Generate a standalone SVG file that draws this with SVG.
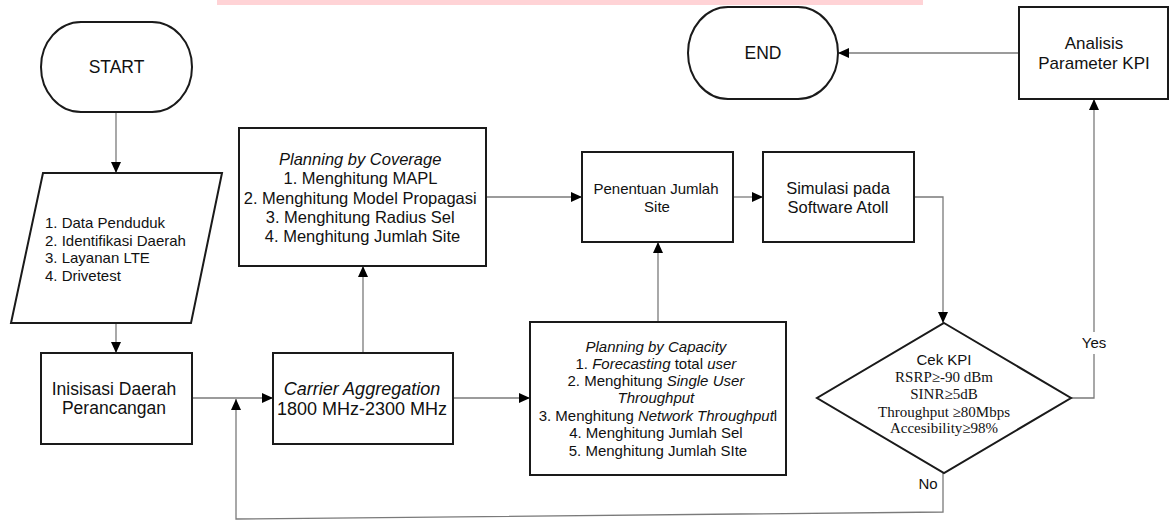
<svg xmlns="http://www.w3.org/2000/svg" width="1169" height="522" viewBox="0 0 1169 522">
<style>
.node{fill:#fff;stroke:#1a1a1a;stroke-width:2}
.conn{fill:none;stroke:#7a7a7a;stroke-width:1.3}
.t{font-family:"Liberation Sans",Arial,sans-serif;fill:#111;text-anchor:middle}
.tm{font-family:"Liberation Serif","Times New Roman",serif;fill:#111;text-anchor:middle;font-size:15px}
.i{font-style:italic}
</style>
<defs>
<marker id="arr" markerUnits="userSpaceOnUse" markerWidth="12" markerHeight="11" refX="11" refY="5" orient="auto">
<path d="M0,0 L11,5 L0,10 z" fill="#000"/>
</marker>
</defs>
<rect width="1169" height="522" fill="#fff"/>
<rect x="217" y="0" width="706" height="5" fill="#ffd3d6"/>

<g id="connectors">
<path class="conn" d="M116,112 V173" marker-end="url(#arr)"/>
<path class="conn" d="M116,323 V353" marker-end="url(#arr)"/>
<path class="conn" d="M177,398 H273" marker-end="url(#arr)"/>
<path class="conn" d="M363,353 V266" marker-end="url(#arr)"/>
<path class="conn" d="M453,398 H530" marker-end="url(#arr)"/>
<path class="conn" d="M486,197 H582" marker-end="url(#arr)"/>
<path class="conn" d="M658,322 V242" marker-end="url(#arr)"/>
<path class="conn" d="M733,197 H763" marker-end="url(#arr)"/>
<path class="conn" d="M914,197 H943 V323" marker-end="url(#arr)"/>
<path class="conn" d="M1071,398 H1094 V354"/>
<path class="conn" d="M1094,332 V99" marker-end="url(#arr)"/>
<path class="conn" d="M1019,53 H838" marker-end="url(#arr)"/>
<path class="conn" d="M943,473 V512 L236,519 V399" marker-end="url(#arr)"/>
<text class="t" x="1094" y="348" font-size="15">Yes</text>
<text class="t" x="928" y="489" font-size="15">No</text>
</g>

<g id="start">
<rect class="node" x="41" y="22" width="151" height="90" rx="40" ry="45"/>
<text class="t" x="116.5" y="73" font-size="17.5">START</text>
</g>

<g id="input-data">
<polygon class="node" points="43,173 222,173 191,323 11,323"/>
<text class="t" font-size="15" style="text-anchor:start">
<tspan x="45" y="228">1. Data Penduduk</tspan>
<tspan x="45" y="245.5">2. Identifikasi Daerah</tspan>
<tspan x="45" y="263">3. Layanan LTE</tspan>
<tspan x="45" y="280.5">4. Drivetest</tspan>
</text>
</g>

<g id="inisiasi">
<rect class="node" x="41" y="353" width="151" height="91"/>
<text class="t" font-size="17.5"><tspan x="114" y="395">Inisisasi Daerah</tspan><tspan x="114" y="414">Perancangan</tspan></text>
</g>

<g id="carrier-aggregation">
<rect class="node" x="273" y="353" width="180" height="91"/>
<text class="t" font-size="18"><tspan x="362" y="395" class="i">Carrier Aggregation</tspan><tspan x="362" y="415">1800 MHz-2300 MHz</tspan></text>
</g>

<g id="coverage">
<rect class="node" x="239" y="128" width="247" height="138"/>
<text class="t" font-size="16.5">
<tspan x="362.5" y="165" class="i">Planning by Coverage</tspan>
<tspan x="362.5" y="184">1. Menghitung MAPL</tspan>
<tspan x="362.5" y="204">2. Menghitung Model Propagasi</tspan>
<tspan x="362.5" y="223">3. Menghitung Radius Sel</tspan>
<tspan x="362.5" y="242">4. Menghitung Jumlah Site</tspan>
</text>
</g>

<g id="capacity">
<rect class="node" x="530" y="322" width="256" height="153"/>
<text class="t" font-size="15">
<tspan x="658" y="352" class="i">Planning by Capacity</tspan>
<tspan x="658" y="369">1. <tspan class="i">Forecasting</tspan> total <tspan class="i">user</tspan></tspan>
<tspan x="658" y="386">2. Menghitung <tspan class="i">Single User</tspan></tspan>
<tspan x="658" y="403" class="i">Throughput</tspan>
<tspan x="660" y="421">3. Menghitung <tspan class="i">Network Throughput</tspan>l</tspan>
<tspan x="658" y="438">4. Menghitung Jumlah Sel</tspan>
<tspan x="658" y="456">5. Menghitung Jumlah SIte</tspan>
</text>
</g>

<g id="penentuan">
<rect class="node" x="582" y="152" width="151" height="90"/>
<text class="t" font-size="15"><tspan x="656" y="194">Penentuan Jumlah</tspan><tspan x="657" y="212">Site</tspan></text>
</g>

<g id="simulasi">
<rect class="node" x="763" y="152" width="151" height="90"/>
<text class="t" font-size="16.5"><tspan x="838" y="194">Simulasi pada</tspan><tspan x="838" y="213">Software Atoll</tspan></text>
</g>

<g id="cek-kpi">
<polygon class="node" points="944,323 1071,398 944,473 817,398"/>
<text class="t" x="944" y="365" font-size="15">Cek KPI</text>
<text class="tm"><tspan x="944" y="382">RSRP≥-90 dBm</tspan><tspan x="944" y="399">SINR≥5dB</tspan><tspan x="944" y="417">Throughput ≥80Mbps</tspan><tspan x="944" y="433">Accesibility≥98%</tspan></text>
</g>

<g id="analisis">
<rect class="node" x="1019" y="7" width="149" height="92"/>
<text class="t" font-size="17"><tspan x="1094" y="49">Analisis</tspan><tspan x="1094" y="69">Parameter KPI</tspan></text>
</g>

<g id="end">
<rect class="node" x="688" y="7" width="150" height="92" rx="40" ry="46"/>
<text class="t" x="763" y="59" font-size="17.5">END</text>
</g>
</svg>
